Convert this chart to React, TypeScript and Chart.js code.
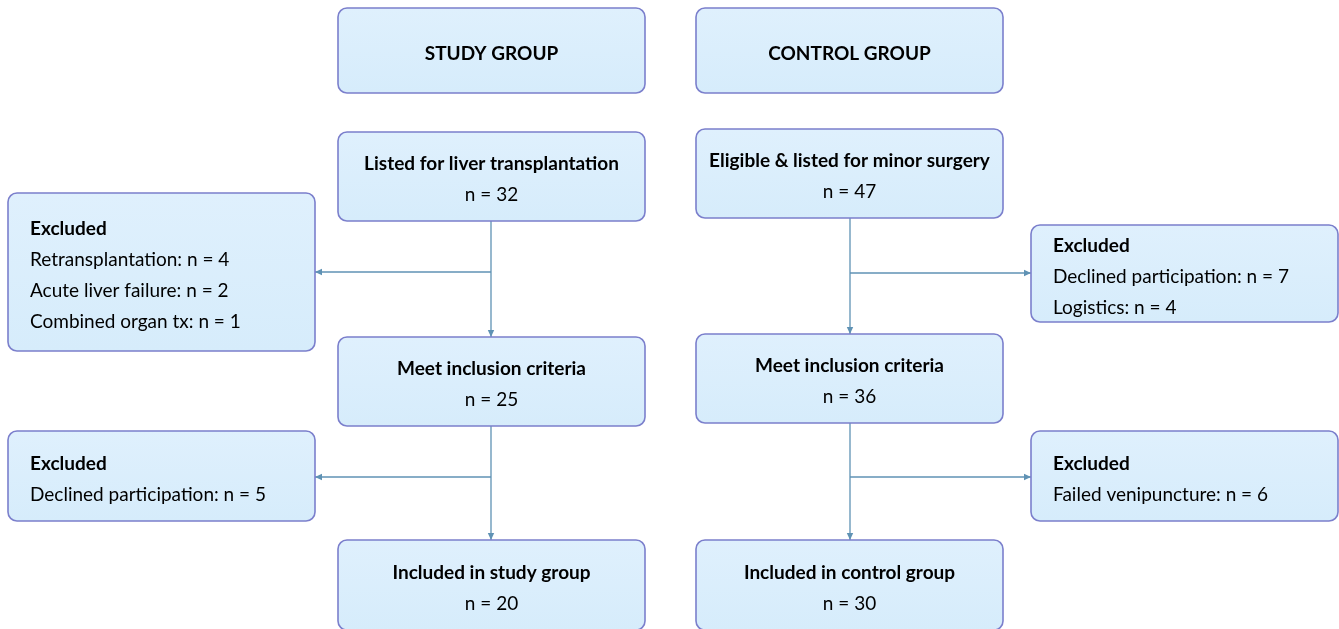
import React, { useEffect, useRef } from "react";
import { Chart, registerables } from "chart.js";

Chart.register(...registerables);

// ---- content ----
const boxTitles: string[] = [
  "STUDY GROUP",
  "CONTROL GROUP",
  "Listed for liver transplantation",
  "Eligible & listed for minor surgery",
  "Excluded",
  "Excluded",
  "Meet inclusion criteria",
  "Meet inclusion criteria",
  "Excluded",
  "Excluded",
  "Included in study group",
  "Included in control group",
];
const boxLines: string[][] = [
  [],
  [],
  ["n = 32"],
  ["n = 47"],
  ["Retransplantation: n = 4", "Acute liver failure: n = 2", "Combined organ tx: n = 1"],
  ["Declined participation: n = 7", "Logistics: n = 4"],
  ["n = 25"],
  ["n = 36"],
  ["Declined participation: n = 5"],
  ["Failed venipuncture: n = 6"],
  ["n = 20"],
  ["n = 30"],
];
const boxLeftAligned: boolean[] = [false, false, false, false, true, true, false, false, true, true, false, false];

// ---- layout (data units of hidden linear axes) ----
const boxX: number[] = [338, 696, 338, 696, 8, 1031, 338, 696, 8, 1031, 338, 696];
const boxY: number[] = [8, 8, 132, 129, 193, 225, 337, 334, 431, 431, 540, 540];
const boxW: number[] = [307, 307, 307, 307, 307, 307, 307, 307, 307, 307, 307, 307];
const boxH: number[] = [85, 85, 89, 89, 158, 97, 89, 89, 90, 90, 90, 90];

// connectors: [x1, y1, x2, y2] arrow at end
const arrowX1: number[] = [491, 491, 850, 850, 491, 491, 850, 850];
const arrowY1: number[] = [221, 272, 218, 273, 426, 477, 423, 477];
const arrowX2: number[] = [491, 315, 850, 1031, 491, 315, 850, 1031];
const arrowY2: number[] = [337, 272, 334, 273, 540, 477, 540, 477];

const FONT = "Lato, 'Open Sans', sans-serif";

const flowPlugin = {
  id: "flow",
  afterDatasetsDraw(chart: any) {
    const ctx: CanvasRenderingContext2D = chart.ctx;
    const xs = chart.scales.x;
    const ys = chart.scales.y;
    const px = (v: number) => xs.getPixelForValue(v);
    const py = (v: number) => ys.getPixelForValue(v);

    // connectors
    ctx.save();
    ctx.strokeStyle = "#5f92b4";
    ctx.fillStyle = "#5f92b4";
    ctx.lineWidth = 1.3;
    for (let i = 0; i < arrowX1.length; i++) {
      const x1 = px(arrowX1[i]), y1 = py(arrowY1[i]);
      const x2 = px(arrowX2[i]), y2 = py(arrowY2[i]);
      ctx.beginPath();
      ctx.moveTo(x1, y1);
      ctx.lineTo(x2, y2);
      ctx.stroke();
      const ang = Math.atan2(y2 - y1, x2 - x1);
      const L = 7, Wd = 3.2;
      ctx.beginPath();
      ctx.moveTo(x2, y2);
      ctx.lineTo(x2 - L * Math.cos(ang) + Wd * Math.sin(ang), y2 - L * Math.sin(ang) - Wd * Math.cos(ang));
      ctx.lineTo(x2 - L * Math.cos(ang) - Wd * Math.sin(ang), y2 - L * Math.sin(ang) + Wd * Math.cos(ang));
      ctx.closePath();
      ctx.fill();
    }
    ctx.restore();

    // boxes
    for (let i = 0; i < boxTitles.length; i++) {
      const x = px(boxX[i]), y = py(boxY[i]);
      const w = px(boxX[i] + boxW[i]) - x;
      const h = py(boxY[i] + boxH[i]) - y;
      ctx.save();
      const g = ctx.createLinearGradient(0, y, 0, y + h);
      g.addColorStop(0, "#dff0fd");
      g.addColorStop(1, "#d6ecfb");
      ctx.fillStyle = g;
      ctx.strokeStyle = "#7b7fcc";
      ctx.lineWidth = 1.6;
      ctx.beginPath();
      ctx.roundRect(x, y, w, h, 9);
      ctx.fill();
      ctx.stroke();

      ctx.fillStyle = "#000";
      ctx.textBaseline = "middle";
      const lines = boxLines[i];
      const n = 1 + lines.length;
      const spacing = 31;
      const cy = y + h / 2 + 3;
      const top = cy - ((n - 1) * spacing) / 2;
      const bold = `bold 19px ${FONT}`;
      const reg = `19px ${FONT}`;
      if (boxLeftAligned[i]) {
        ctx.textAlign = "left";
        const tx = x + 22;
        ctx.font = bold;
        ctx.fillText(boxTitles[i], tx, top);
        ctx.font = reg;
        lines.forEach((t, k) => ctx.fillText(t, tx, top + (k + 1) * spacing));
      } else {
        ctx.textAlign = "center";
        const tx = x + w / 2;
        ctx.font = bold;
        ctx.fillText(boxTitles[i], tx, top);
        ctx.font = reg;
        lines.forEach((t, k) => ctx.fillText(t, tx, top + (k + 1) * spacing));
      }
      ctx.restore();
    }
  },
};

export default function App() {
  const ref = useRef<HTMLCanvasElement | null>(null);
  useEffect(() => {
    if (!ref.current) return;
    const chart = new Chart(ref.current, {
      type: "scatter",
      data: {
        datasets: [
          {
            data: boxX.map((v, i) => ({ x: v + boxW[i] / 2, y: boxY[i] + boxH[i] / 2 })),
            pointRadius: 0,
          },
        ],
      },
      options: {
        animation: false,
        responsive: false,
        events: [],
        layout: { padding: 0 },
        plugins: { legend: { display: false }, tooltip: { enabled: false } },
        scales: {
          x: { type: "linear", min: 0, max: 1339, display: false },
          y: { type: "linear", min: 0, max: 629, reverse: true, display: false },
        },
      },
      plugins: [flowPlugin],
    });
    return () => chart.destroy();
  }, []);
  return (
    <div style={{ position: "fixed", left: 0, top: 0, width: 1339, height: 629, background: "#fff" }}>
      <canvas ref={ref} width={1339} height={629} style={{ width: 1339, height: 629 }} />
    </div>
  );
}
